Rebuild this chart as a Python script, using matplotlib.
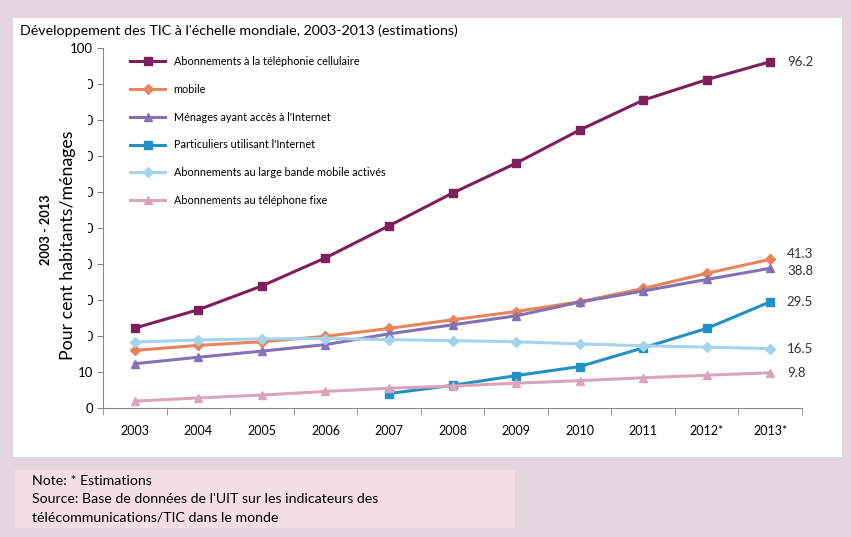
import matplotlib.pyplot as plt
from matplotlib.patches import Rectangle

# data (per 100 inhabitants / households)
years = ["2003", "2004", "2005", "2006", "2007", "2008", "2009", "2010", "2011", "2012*", "2013*"]
cellulaire = [22.2, 27.3, 33.9, 41.7, 50.6, 59.7, 68.0, 77.2, 85.5, 91.2, 96.2]
menages_orange = [16.0, 17.4, 18.4, 19.9, 22.1, 24.5, 26.8, 29.5, 33.2, 37.4, 41.3]
internet_violet = [12.3, 14.1, 15.8, 17.6, 20.6, 23.1, 25.6, 29.4, 32.5, 35.7, 38.8]
large_bande_mobile = [None, None, None, None, 4.0, 6.3, 9.0, 11.5, 16.7, 22.1, 29.5]
fixe_bleu_clair = [18.3, 18.9, 19.2, 19.3, 19.0, 18.7, 18.4, 17.8, 17.3, 16.9, 16.5]
fixe_rose = [1.9, 2.8, 3.6, 4.6, 5.5, 6.1, 6.9, 7.6, 8.4, 9.1, 9.8]

labels = ["Abonnements à la téléphonie cellulaire",
          "mobile",
          "Ménages ayant accès à l'Internet",
          "Particuliers utilisant l'Internet",
          "Abonnements au large bande mobile activés",
          "Abonnements au téléphone fixe"]
end_labels = ["96.2", "41.3", "38.8", "29.5", "16.5", "9.8"]

plt.rcParams['font.family'] = ['Lato', 'DejaVu Sans']

fig = plt.figure(figsize=(8.51, 5.37), dpi=100)
fig.patch.set_facecolor("#e5d5dc")
W, H = 851, 537

def box(x0, y0, x1, y1, color, z=0):
    r = Rectangle((x0 / W, 1 - y1 / H), (x1 - x0) / W, (y1 - y0) / H,
                  transform=fig.transFigure, facecolor=color, edgecolor="none", zorder=z)
    fig.patches.append(r)

box(13, 18, 842, 457, "white")
box(15, 470, 515, 528, "#f3dfe3")

fig.text(20 / W, 1 - 31 / H, "Développement des TIC à l'échelle mondiale, 2003-2013 (estimations)",
         fontsize=10.3, va="center")
fig.text(32 / W, 1 - 481 / H, "Note: * Estimations", fontsize=10.2, va="center")
fig.text(32 / W, 1 - 499 / H, "Source: Base de données de l'UIT sur les indicateurs des",
         fontsize=10.2, va="center")
fig.text(32 / W, 1 - 518 / H, "télécommunications/TIC dans le monde", fontsize=10.2, va="center")

ax = fig.add_axes([103 / W, 1 - 408 / H, (802 - 103) / W, (408 - 48) / H])
ax.set_facecolor("none")
ax.set_zorder(2)

series = [cellulaire, menages_orange, internet_violet, large_bande_mobile, fixe_bleu_clair, fixe_rose]
colors = ["#7e1e5a", "#e8845a", "#8571b2", "#2190c6", "#a3d4ec", "#d9a5bb"]
markers = ["s", "D", "^", "s", "D", "^"]
msizes = [6, 5, 6, 6, 5, 6]
x = list(range(len(years)))

for vals, c, m, ms, lab in zip(series, colors, markers, msizes, labels):
    xs = [i for i, v in zip(x, vals) if v is not None]
    ys = [v for v in vals if v is not None]
    ax.plot(xs, ys, color=c, lw=2.2, marker=m, ms=ms, label=lab, zorder=3)

# end value labels
offsets = [0, 4, -2, 0, 0, 0]
for vals, txt, dy in zip(series, end_labels, offsets):
    ax.annotate(txt, (10, vals[-1]), xytext=(12, dy), textcoords="offset points",
                va="center", ha="left", fontsize=9.5, color="#333333")

ax.set_xlim(-0.5, 10.5)
ax.set_ylim(0, 100)
ax.set_yticks(range(0, 101, 10))
ax.set_yticklabels([str(v) for v in range(0, 101, 10)], fontsize=9.5)
ax.set_xticks(x)
ax.set_xticklabels(years, fontsize=9)
ax.set_xticks([i - 0.5 for i in range(12)], minor=True)
ax.tick_params(axis="x", which="major", length=0, pad=12)
ax.tick_params(axis="x", which="minor", length=5, color="#888888")
ax.tick_params(axis="y", length=4, color="#888888", pad=3)
for s in ["top", "right"]:
    ax.spines[s].set_visible(False)
for s in ["left", "bottom"]:
    ax.spines[s].set_color("#888888")

leg = ax.legend(loc="upper left", bbox_to_anchor=(0.025, 1.005), frameon=True, fontsize=7.8,
                handlelength=3.2, labelspacing=1.55, borderpad=0.4, handletextpad=0.8)
leg.get_frame().set_edgecolor("none")
leg.get_frame().set_facecolor("white")
leg.get_frame().set_alpha(1)
leg.set_zorder(5)

# axis titles
fig.text(46 / W, 1 - 230 / H, "2003 - 2013", rotation=90, fontsize=9.2, fontweight="bold",
         va="center", ha="center")
fig.text(68 / W, 1 - 245 / H, "Pour cent habitants/ménages", rotation=90, fontsize=12.8,
         va="center", ha="center")

# the white label area hides part of the middle tick labels
box(76, 62, 88, 346, "white", z=10)

fig.savefig("out.png", dpi=100, facecolor=fig.get_facecolor())
